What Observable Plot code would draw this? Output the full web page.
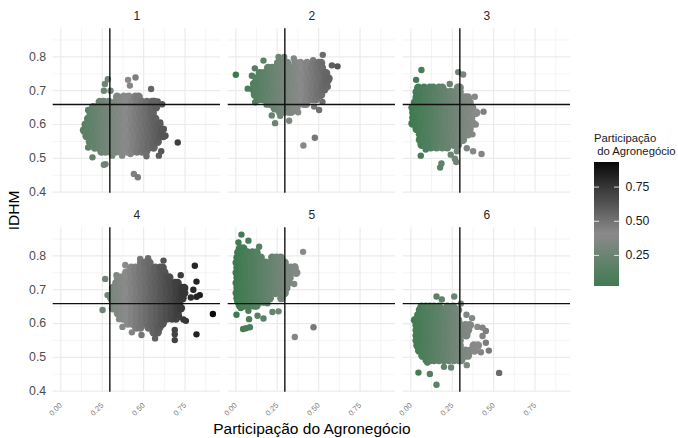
<!DOCTYPE html>
<html><head><meta charset="utf-8">
<script src="https://cdn.jsdelivr.net/npm/d3@7"></script>
<script src="https://cdn.jsdelivr.net/npm/@observablehq/plot@0.6"></script>
<style>
body{margin:0;background:#fff;font-family:"Liberation Sans",Arial,sans-serif;}
#wrap{position:relative;width:678px;height:438px;overflow:hidden}
#legendTitle{position:absolute;left:594px;top:132px;font-size:11.3px;line-height:13px;color:#1a1a1a;white-space:pre}
#legend{position:absolute;left:590px;top:152px}
</style></head><body>
<div id="wrap"><div id="legendTitle">Participação
 do Agronegócio</div><div id="legend"></div></div>
<script>
const xLabel = "Participação do Agronegócio";
const yLabel = "IDHM";
const panelTitles = ["1","2","3","4","5","6"];
const refX = 0.296, refY = 0.659;
const xMajor = [0,0.25,0.5,0.75], xMinor = [0.125,0.375,0.625,0.875];
const yMajor = [0.4,0.5,0.6,0.7,0.8], yMinor = [0.45,0.55,0.65,0.75,0.85];
const legendTicks = [0.25,0.5,0.75];

// Each cloud: rows [y, [x...]] read from the dense body, then individually visible points [x,y].
const rows1 = [
[.682,[.34,.38,.41,.45,.47]],
[.667,[.235,.26,.29,.33,.36,.39,.43,.46,.49,.52,.55,.565]],
[.651,[.195,.22,.25,.28,.31,.34,.37,.40,.43,.46,.49,.52,.55,.575]],
[.634,[.18,.205,.24,.27,.30,.33,.36,.39,.42,.45,.48,.51,.54,.555]],
[.617,[.165,.19,.22,.25,.28,.31,.34,.37,.40,.43,.46,.49,.52,.55,.57]],
[.60,[.15,.175,.21,.24,.27,.30,.33,.36,.39,.42,.45,.48,.51,.54,.57,.595]],
[.583,[.14,.165,.195,.225,.255,.285,.315,.345,.375,.405,.435,.465,.495,.525,.555,.585,.61]],
[.566,[.155,.18,.21,.24,.27,.30,.33,.36,.39,.42,.45,.48,.51,.54,.57,.60,.62]],
[.549,[.175,.20,.23,.26,.29,.32,.35,.38,.41,.44,.47,.50,.53,.56,.585]],
[.532,[.205,.23,.26,.29,.32,.35,.38,.41,.44,.47,.50,.53,.56]],
[.52,[.245,.27,.30,.33,.36,.40,.43,.46,.49,.515]]];
const points1 = [[.284,.734],[.266,.72],[.26,.70],[.30,.70],[.451,.739],[.406,.732],[.417,.715],[.545,.705],[.706,.547],[.441,.454],[.465,.444],[.27,.483],[.26,.481],[.191,.503],[.165,.532],[.165,.643],[.592,.508],[.606,.521],[.517,.506],[.37,.508],[.31,.508],[.42,.513],[.632,.567],[.60,.606],[.622,.587],[.612,.66],[.585,.668],[.561,.67]];

const rows2 = [
[.782,[.255,.28,.31,.36,.39,.43,.47,.50,.515]],
[.767,[.195,.22,.25,.28,.31,.34,.37,.40,.43,.46,.49,.52]],
[.752,[.145,.17,.20,.23,.26,.29,.32,.35,.38,.41,.44,.47,.50,.53,.545]],
[.736,[.125,.15,.18,.21,.24,.27,.30,.33,.36,.39,.42,.45,.48,.51,.54,.56]],
[.72,[.11,.135,.165,.195,.225,.255,.285,.315,.345,.375,.405,.435,.465,.495,.525,.545]],
[.704,[.105,.13,.16,.19,.22,.25,.28,.31,.34,.37,.40,.43,.46,.49,.52,.535]],
[.688,[.115,.14,.17,.20,.23,.26,.29,.32,.35,.38,.41,.44,.47,.50,.515]],
[.675,[.135,.16,.19,.22,.25,.28,.31,.34,.37,.40,.43,.46,.485]],
[.661,[.205,.23,.26,.29,.32,.35,.38,.41,.425]],
[.648,[.235,.26,.29,.32,.35,.365]],
[.638,[.265,.29,.32,.335]]];
const points2 = [[0,.747],[.072,.706],[.117,.666],[.185,.659],[.217,.627],[.237,.604],[.268,.626],[.322,.611],[.376,.636],[.408,.538],[.477,.561],[.473,.653],[.503,.643],[.523,.667],[.555,.712],[.614,.772],[.58,.775],[.525,.806],[.167,.789],[.115,.766],[.097,.744],[.258,.80],[.292,.80],[.35,.795],[.467,.79],[.559,.73]];

const rows3 = [
[.709,[.045,.08,.115,.135,.17,.19,.285,.295]],
[.696,[.035,.06,.09,.12,.15,.18,.21,.24,.27,.295]],
[.68,[.035,.06,.09,.12,.15,.18,.21,.24,.27,.30,.33,.345]],
[.665,[.025,.05,.08,.11,.14,.17,.20,.23,.26,.29,.32,.355]],
[.65,[.01,.035,.065,.095,.125,.155,.185,.215,.245,.275,.305,.335,.37]],
[.635,[.015,.04,.07,.10,.13,.16,.19,.22,.25,.28,.31,.34,.38,.395]],
[.62,[.015,.035,.065,.095,.125,.155,.185,.215,.245,.275,.305,.335,.365]],
[.603,[.01,.035,.065,.095,.125,.155,.185,.215,.245,.275,.305,.335,.375]],
[.587,[.035,.06,.09,.12,.15,.18,.21,.24,.27,.30,.33,.355]],
[.571,[.055,.08,.11,.14,.17,.20,.23,.26,.29,.32,.345]],
[.555,[.055,.08,.11,.14,.17,.20,.23,.26,.29,.315]],
[.54,[.065,.09,.12,.15,.18,.21,.26,.285]],
[.533,[.095,.12,.155,.19,.22]]];
const points3 = [[.064,.761],[.286,.755],[.316,.748],[.032,.732],[.386,.682],[.439,.638],[.392,.60],[.372,.571],[.338,.53],[.376,.521],[.427,.513],[.278,.521],[.241,.511],[.266,.499],[.274,.489],[.185,.485],[.177,.473],[.06,.508],[.09,.526],[.235,.72]];

const rows4 = [
[.78,[.485,.51,.535]],
[.765,[.425,.45,.48,.51,.54,.57,.60,.615]],
[.751,[.395,.42,.45,.48,.51,.54,.57,.60,.625]],
[.736,[.345,.37,.40,.43,.46,.49,.52,.55,.58,.61,.64,.655]],
[.72,[.335,.36,.39,.42,.45,.48,.51,.54,.57,.60,.63,.66,.69,.705]],
[.705,[.315,.34,.37,.40,.43,.46,.49,.52,.55,.58,.61,.64,.67,.70,.73,.745]],
[.69,[.315,.34,.37,.40,.43,.46,.49,.52,.55,.58,.61,.64,.67,.70,.73,.745]],
[.675,[.305,.33,.36,.39,.42,.45,.48,.51,.54,.57,.60,.63,.66,.69,.72,.735]],
[.66,[.315,.34,.37,.40,.43,.46,.49,.52,.55,.58,.61,.64,.67,.70,.715]],
[.645,[.315,.34,.37,.40,.43,.46,.49,.52,.55,.58,.61,.64,.67,.70,.725]],
[.63,[.345,.37,.40,.43,.46,.49,.52,.55,.58,.61,.64,.67,.705]],
[.615,[.375,.40,.43,.46,.49,.52,.55,.58,.61,.64,.67,.695]],
[.60,[.405,.43,.46,.49,.52,.55,.58,.61,.615]],
[.588,[.455,.48,.53,.56,.59,.595]],
[.574,[.56,.585]]];
const points4 = [[.268,.732],[.252,.64],[.282,.684],[.479,.791],[.527,.793],[.62,.786],[.809,.771],[.724,.743],[.819,.724],[.80,.70],[.839,.684],[.82,.679],[.785,.677],[.918,.628],[.819,.568],[.688,.581],[.688,.568],[.688,.551],[.569,.556],[.487,.566],[.429,.574],[.372,.59],[.352,.613],[.755,.608],[.714,.62],[.389,.773],[.336,.743],[.74,.612]];

const rows5 = [
[.822,[.025,.045]],
[.81,[.015,.04,.07,.10,.125]],
[.795,[.01,.035,.065,.095,.125,.15,.22,.245,.27]],
[.78,[.005,.03,.06,.09,.12,.15,.18,.21,.24,.27,.295]],
[.765,[.01,.035,.065,.095,.125,.155,.185,.215,.245,.275,.305,.33,.355]],
[.75,[.005,.03,.06,.09,.12,.15,.18,.21,.24,.27,.30,.33,.365]],
[.735,[.01,.035,.065,.095,.125,.155,.185,.215,.245,.275,.305,.325]],
[.72,[.005,.03,.06,.09,.12,.15,.18,.21,.24,.27,.30,.315]],
[.705,[.01,.035,.065,.095,.125,.155,.185,.215,.245,.275,.305]],
[.69,[.005,.03,.06,.09,.12,.15,.18,.21,.24,.27,.295]],
[.675,[.01,.035,.065,.095,.125,.155,.185,.205,.275]],
[.665,[.015,.04,.07,.10,.13,.16,.175]],
[.653,[.025,.05,.08,.11,.125]]];
const points5 = [[.034,.863],[.016,.84],[.076,.845],[.141,.827],[.406,.812],[.356,.769],[.352,.717],[.469,.589],[.356,.56],[.191,.66],[.221,.634],[.258,.636],[.167,.615],[.131,.623],[.08,.613],[.03,.646],[.004,.626],[.076,.638],[.044,.584],[.085,.589],[.062,.586]];

const rows6 = [
[.65,[.065,.09,.115,.14,.17,.22,.255]],
[.64,[.055,.08,.11,.14,.17,.20,.23,.27,.285]],
[.625,[.045,.07,.10,.13,.16,.19,.22,.25,.275]],
[.61,[.025,.05,.08,.11,.14,.17,.20,.23,.26,.285]],
[.595,[.035,.06,.09,.12,.15,.18,.21,.24,.27,.30,.33,.355]],
[.58,[.035,.06,.09,.12,.15,.18,.21,.24,.27,.30,.33,.345]],
[.565,[.035,.055,.085,.115,.145,.175,.205,.235,.265,.295,.335]],
[.55,[.035,.06,.09,.12,.15,.18,.21,.24,.27,.295]],
[.535,[.04,.06,.09,.12,.15,.18,.21,.24,.27,.295,.38,.405]],
[.52,[.05,.07,.085,.115,.145,.175,.205,.235,.265,.295,.33,.36,.385]],
[.505,[.07,.09,.11,.14,.17,.20,.23,.26,.29,.32,.345]],
[.492,[.095,.115,.14,.17,.20,.23,.26,.29,.305]]];
const points6 = [[.155,.68],[.187,.671],[.262,.68],[.302,.659],[.336,.626],[.37,.616],[.046,.455],[.115,.451],[.155,.419],[.533,.454],[.2,.472],[.243,.47],[.338,.477],[.10,.485],[.453,.578],[.433,.563],[.453,.543],[.471,.52],[.423,.515],[.392,.534],[.362,.596],[.402,.59],[.433,.588]];

const colorDomain = [0,0.4,0.93];
const colorRange = ["#3c7a4e","#8a8a8a","#080808"];

const allRows = [rows1,rows2,rows3,rows4,rows5,rows6];
const allPoints = [points1,points2,points3,points4,points5,points6];
const bodyTable = [], pointTable = [];
allRows.forEach((rows,i)=>{
  const col=i%3,row=Math.floor(i/3);
  rows.forEach(([y,xs])=>xs.forEach(x=>bodyTable.push({x,y,col,row})));
  allPoints[i].forEach(([x,y])=>pointTable.push({x,y,col,row}));
});
bodyTable.sort((a,b)=>a.x-b.x);
const titleTable = panelTitles.map((t,i)=>({t,col:i%3,row:Math.floor(i/3)}));
const colorScale = {type:"linear",domain:colorDomain,range:colorRange,clamp:true};

const chart = Plot.plot({
  width:678,height:438,
  marginLeft:52.7,marginRight:108,marginTop:28.3,marginBottom:46.3,
  style:{fontFamily:"'Liberation Sans',Arial,sans-serif",background:"transparent"},
  x:{domain:[-0.046,0.964],label:xLabel},
  y:{domain:[0.397,0.883],label:yLabel},
  fx:{domain:[0,1,2],paddingInner:0.044,paddingOuter:0,round:false,axis:null,label:null},
  fy:{domain:[0,1],paddingInner:0.174,paddingOuter:0,round:false,axis:null,label:null},
  color:colorScale,
  marks:[
    Plot.ruleX(xMinor,{stroke:"#efefef",strokeWidth:0.7}),
    Plot.ruleY(yMinor,{stroke:"#efefef",strokeWidth:0.7}),
    Plot.ruleX(xMajor,{stroke:"#ebebeb",strokeWidth:1.2}),
    Plot.ruleY(yMajor,{stroke:"#ebebeb",strokeWidth:1.2}),
    Plot.axisX(xMajor,{tickSize:0,tickPadding:12,tickRotate:-45,tickFormat:".2f",fontSize:7.5,fill:"#7a7a7a",
      label:xLabel,labelAnchor:"center",labelArrow:"none",labelOffset:42}),
    Plot.axisY(yMajor,{tickSize:0,tickPadding:7,tickFormat:".1f",fontSize:12.3,fill:"#4d4d4d",
      label:yLabel,labelAnchor:"center",labelArrow:"none",labelOffset:45}),
    Plot.dot(pointTable,{x:"x",y:"y",fx:"col",fy:"row",r:3.2,fill:"x",stroke:null}),
    Plot.dot(bodyTable,{x:"x",y:"y",fx:"col",fy:"row",r:4.2,fill:"x",stroke:null}),
    Plot.ruleX([refX],{stroke:"#000",strokeWidth:1.3}),
    Plot.ruleY([refY],{stroke:"#111",strokeWidth:1.4}),
    Plot.text(titleTable,{fx:"col",fy:"row",text:"t",frameAnchor:"top",dy:-13,fontSize:12,fill:"#262626",lineAnchor:"middle"})
  ]
});
chart.querySelectorAll('[aria-label="x-axis label"] text, [aria-label="y-axis label"] text').forEach(t=>{t.style.fontSize="15.5px";t.setAttribute("fill","#000");});
document.getElementById("wrap").prepend(chart);

const legendStep = 0.0075;
const legendSteps = d3.range(0.025,0.93,legendStep);
const legend = Plot.plot({
  width:66,height:133.7,marginLeft:4,marginRight:37,marginTop:10,marginBottom:0,
  style:{fontFamily:"'Liberation Sans',Arial,sans-serif",background:"transparent"},
  x:{domain:[0,1],axis:null},
  y:{domain:[0.025,0.93]},
  color:colorScale,
  marks:[
    Plot.rect(legendSteps,{x1:0,x2:1,y1:d=>d,y2:d=>Math.min(d+legendStep*2,0.93),fill:d=>d,shapeRendering:"crispEdges"}),
    Plot.ruleY(legendTicks,{x1:0,x2:0.2,stroke:"#fff",strokeOpacity:0.8,strokeWidth:1}),
    Plot.ruleY(legendTicks,{x1:0.8,x2:1,stroke:"#fff",strokeOpacity:0.8,strokeWidth:1}),
    Plot.axisY(legendTicks,{anchor:"right",tickSize:0,tickPadding:6,tickFormat:".2f",fontSize:12.3,fill:"#1a1a1a",label:null})
  ]
});
document.getElementById("legend").append(legend);
</script>
</body></html>
